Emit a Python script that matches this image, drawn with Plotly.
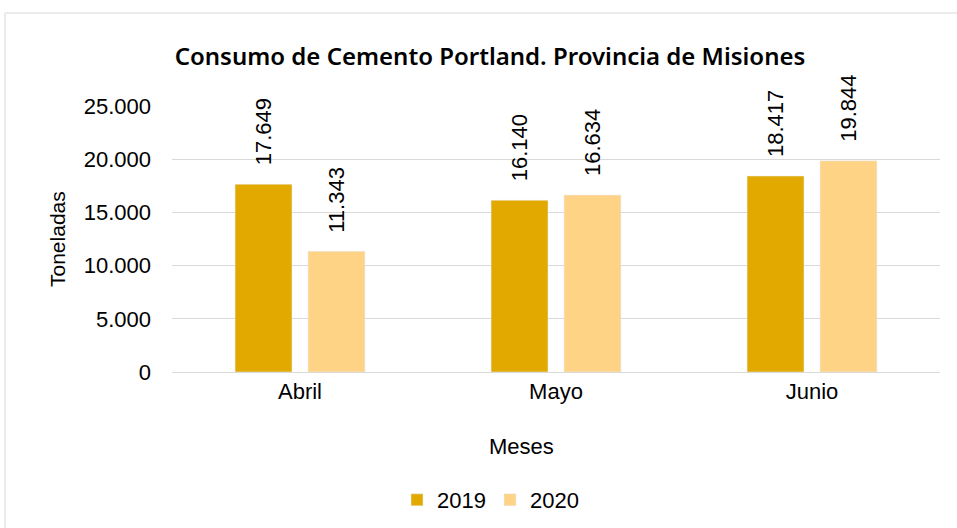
import plotly.graph_objects as go

meses = ["Abril", "Mayo", "Junio"]
v2019 = [17649, 16140, 18417]
v2020 = [11343, 16634, 19844]
series_names = ["2019", "2020"]
series_colors = ["#E2AA00", "#FED386"]
y_ticks = [0, 5000, 10000, 15000, 20000, 25000]
y_tick_labels = ["0", "5.000", "10.000", "15.000", "20.000", "25.000"]

def fmt(v):
    return f"{v:,}".replace(",", ".")

W, H = 957, 528
ml, mr, mt, mb = 172, 17, 106, 156
pw, ph = W - ml - mr, H - mt - mb
FONT = "Arial, Liberation Sans, sans-serif"
FS = 22

fig = go.Figure()
series = [v2019, v2020]
for name, vals, col in zip(series_names, series, series_colors):
    fig.add_trace(go.Bar(x=meses, y=vals, name=name, marker_color=col))

# data labels, offset to each bar of the group
slot_px = pw / len(meses) * (1 - 0.43) / 2
annotations = []
for i, vals in enumerate(series):
    dx = (i - 0.5) * slot_px
    for m, v in zip(meses, vals):
        annotations.append(dict(x=m, y=v, xref="x", yref="y", text=fmt(v), showarrow=False,
                                textangle=-90, xanchor="center", yanchor="bottom", yshift=17, xshift=dx,
                                font=dict(family=FONT, size=FS, color="#000000")))
annotations.append(dict(text="Toneladas", xref="paper", yref="paper", x=(57 - ml) / pw, y=0.5,
                        xanchor="center", yanchor="middle", textangle=-90, showarrow=False,
                        font=dict(family=FONT, size=21, color="#000000")))
annotations.append(dict(text="Meses", xref="paper", yref="paper", x=(521 - ml) / pw, y=(372 - 446) / ph,
                        xanchor="center", yanchor="middle", showarrow=False,
                        font=dict(family=FONT, size=FS, color="#000000")))

fig.update_layout(
    width=W, height=H,
    margin=dict(l=ml, r=mr, t=mt, b=mb, autoexpand=False),
    paper_bgcolor="white", plot_bgcolor="white",
    barmode="group", bargap=0.43, bargroupgap=0.22,
    title=dict(text="Consumo de Cemento Portland. Provincia de Misiones",
               x=490 / W, xanchor="center", y=1 - 57 / H, yanchor="middle", yref="container",
               font=dict(family="Noto Sans", size=24, color="#000000", weight=600)),
    font=dict(family=FONT, size=FS, color="#000000"),
    legend=dict(orientation="h", x=(490 - ml) / pw, xanchor="center", y=(372 - 500) / ph, yanchor="middle",
                font=dict(size=FS), traceorder="normal", entrywidth=48, entrywidthmode="pixels"),
    xaxis=dict(automargin=False, showline=True, linecolor="#d9d9d9", tickfont=dict(size=FS), ticks=""),
    yaxis=dict(automargin=False, range=[0, 25000], tickvals=y_ticks, ticktext=y_tick_labels,
               tickfont=dict(size=FS), gridcolor="#d9d9d9", zeroline=False, ticks="", ticklabelstandoff=20),
    annotations=annotations,
    shapes=[dict(type="rect", xref="paper", yref="paper",
                 x0=(5 - ml) / pw, x1=(962 - ml) / pw, y0=(mt + ph - 535) / ph, y1=1 + (mt - 13) / ph,
                 line=dict(color="#d9d9d9", width=1), fillcolor="rgba(0,0,0,0)", layer="below")],
)

fig.write_html("out.html", config={"displayModeBar": False},
               post_script="document.body.style.margin='0';document.body.style.overflow='hidden';")
